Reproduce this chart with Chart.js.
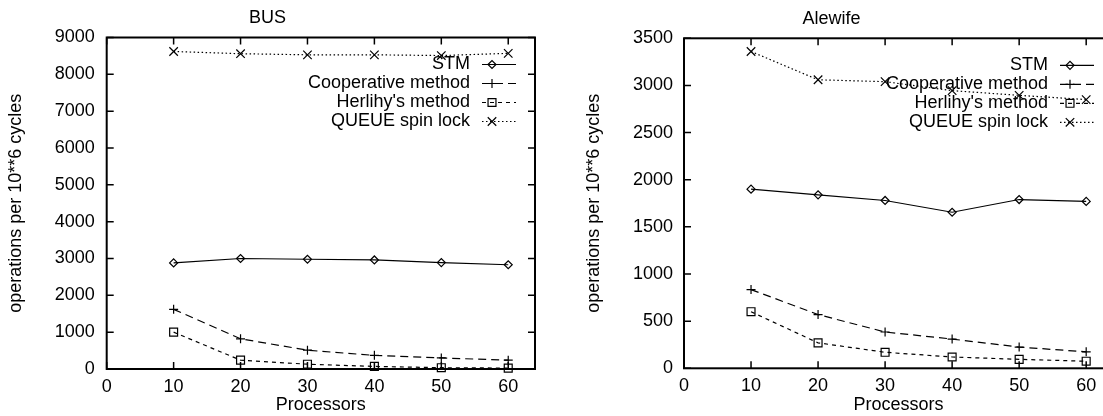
<!DOCTYPE html>
<html>
<head>
<meta charset="utf-8">
<title>STM throughput - BUS / Alewife</title>
<script src="https://cdn.jsdelivr.net/npm/chart.js@4/dist/chart.umd.min.js"></script>
<style>
  body { margin: 0; background: #fff; overflow: hidden; width: 1103px; height: 416px; position: relative; }
  canvas { position: absolute; top: 0; }
  #busChart { left: 0; }
  #alewifeChart { left: 550px; }
</style>
</head>
<body>
<canvas id="busChart" width="550" height="416"></canvas>
<canvas id="alewifeChart" width="600" height="416"></canvas>
<script>
'use strict';

// data
const processors = [10, 20, 30, 40, 50, 60];
const seriesNames = ['STM', 'Cooperative method', "Herlihy's method", 'QUEUE spin lock'];

// BUS
const busStm = [2880, 3000, 2980, 2960, 2890, 2830];
const busCoop = [1620, 820, 510, 370, 300, 240];
const busHerlihy = [1000, 240, 130, 70, 35, 25];
const busQueue = [8620, 8560, 8530, 8530, 8510, 8570];

// Alewife
const aleStm = [1900, 1840, 1780, 1655, 1790, 1770];
const aleCoop = [835, 570, 385, 310, 225, 175];
const aleHerlihy = [600, 270, 170, 120, 95, 75];
const aleQueue = [3360, 3060, 3040, 2945, 2895, 2850];

// tick labels
const xTicks = [0, 10, 20, 30, 40, 50, 60];
const busYTicks = [0, 1000, 2000, 3000, 4000, 5000, 6000, 7000, 8000, 9000];
const aleYTicks = [0, 500, 1000, 1500, 2000, 2500, 3000, 3500];

const FONT = '"Liberation Sans", Arial, Helvetica, sans-serif';
Chart.defaults.font.family = FONT;
Chart.defaults.font.size = 18;
Chart.defaults.color = '#000';

// line look for each series (gnuplot style 1..4)
const looks = [
    { dash: [], point: 'rectRot', r: 4 },
    { dash: [8, 5], point: 'cross', r: 4.5 },
    { dash: [4, 4], point: 'rect', r: 5.6 },
    { dash: [1.5, 2.5], point: 'crossRot', r: 6 }
];

// gnuplot frame: box round the plot with ticks pointing inwards
const framePlugin = {
    id: 'frame',
    beforeDatasetsDraw(chart) {
        const ctx = chart.ctx;
        const a = chart.chartArea;
        const xs = chart.scales.x;
        const ys = chart.scales.y;
        ctx.save();
        ctx.strokeStyle = '#000';
        ctx.lineWidth = 1.5;
        ctx.beginPath();
        xs.ticks.forEach(t => {
            const px = xs.getPixelForValue(t.value);
            ctx.moveTo(px, a.bottom);
            ctx.lineTo(px, a.bottom - 7);
            ctx.moveTo(px, a.top);
            ctx.lineTo(px, a.top + 7);
        });
        ys.ticks.forEach(t => {
            const py = ys.getPixelForValue(t.value);
            ctx.moveTo(a.left, py);
            ctx.lineTo(a.left + 7, py);
            ctx.moveTo(a.right, py);
            ctx.lineTo(a.right - 7, py);
        });
        ctx.stroke();
        ctx.lineWidth = 2;
        ctx.strokeRect(a.left, a.top, a.right - a.left, a.bottom - a.top);
        ctx.restore();
    }
};

// key drawn inside the plot, top right, on top of the lines like gnuplot does
const keyPlugin = {
    id: 'key',
    afterDatasetsDraw(chart) {
        const ctx = chart.ctx;
        const a = chart.chartArea;
        const rows = chart.data.datasets;
        for (let i = 0; i < rows.length; i++) {
            const ds = rows[i];
            const y = a.top + 27 + i * 19;
            ctx.save();
            ctx.fillStyle = '#000';
            ctx.font = '18px ' + FONT;
            ctx.textAlign = 'right';
            ctx.textBaseline = 'middle';
            ctx.fillText(ds.label, a.right - 65, y);
            ctx.strokeStyle = '#000';
            ctx.lineWidth = ds.borderWidth;
            ctx.setLineDash(ds.borderDash);
            ctx.beginPath();
            ctx.moveTo(a.right - 53, y);
            ctx.lineTo(a.right - 19, y);
            ctx.stroke();
            ctx.setLineDash([]);
            ctx.fillStyle = 'rgba(0,0,0,0)';
            if (Chart.helpers && Chart.helpers.drawPoint) {
                Chart.helpers.drawPoint(ctx, {
                    pointStyle: ds.pointStyle,
                    radius: ds.pointRadius,
                    borderWidth: ds.pointBorderWidth,
                    rotation: 0
                }, a.right - 43, y);
            }
            ctx.restore();
        }
    }
};

function makeChart(id, title, yTicks, series, box) {
    const datasets = series.map((vals, i) => ({
        label: seriesNames[i],
        data: vals.map((v, j) => ({ x: processors[j], y: v })),
        borderColor: '#000',
        borderWidth: 1.2,
        borderDash: looks[i].dash,
        pointStyle: looks[i].point,
        pointRadius: looks[i].r,
        pointBorderWidth: 1.2,
        pointBorderColor: '#000',
        pointBackgroundColor: 'rgba(0,0,0,0)',
        tension: 0,
        clip: false
    }));

    return new Chart(document.getElementById(id), {
        type: 'line',
        data: { datasets: datasets },
        options: {
            responsive: false,
            animation: false,
            devicePixelRatio: 1,
            layout: { padding: { left: 0, right: box.padRight, top: 0, bottom: 0 } },
            plugins: {
                legend: { display: false },
                tooltip: { enabled: false },
                title: {
                    display: true,
                    text: title,
                    font: { size: 18, weight: 'normal' },
                    padding: { top: box.titleTop, bottom: box.titleBottom }
                }
            },
            scales: {
                x: {
                    type: 'linear',
                    min: 0,
                    max: 64,
                    afterBuildTicks: s => { s.ticks = xTicks.map(v => ({ value: v })); },
                    afterFit: s => { s.height = box.xHeight; },
                    grid: { display: false, drawTicks: false },
                    border: { display: false },
                    ticks: { padding: 7, autoSkip: false, maxRotation: 0, callback: v => String(v) },
                    title: {
                        display: true,
                        text: 'Processors',
                        padding: { top: 0, bottom: 0 }
                    }
                },
                y: {
                    type: 'linear',
                    min: 0,
                    max: yTicks[yTicks.length - 1],
                    afterBuildTicks: s => { s.ticks = yTicks.map(v => ({ value: v })); },
                    afterFit: s => { s.width = box.yWidth; },
                    grid: { display: false, drawTicks: false },
                    border: { display: false },
                    ticks: { padding: box.yPad, callback: v => String(v) },
                    title: {
                        display: true,
                        text: 'operations per 10**6 cycles',
                        padding: { top: box.yTitlePad, bottom: 0 }
                    }
                }
            }
        },
        plugins: [framePlugin, keyPlugin]
    });
}

makeChart('busChart', 'BUS', busYTicks, [busStm, busCoop, busHerlihy, busQueue], {
    padRight: 15, titleTop: 7.5, titleBottom: 8.4, xHeight: 47, yWidth: 106.7, yPad: 12, yTitlePad: 5
});

// right plot runs past the window edge, like in the picture
makeChart('alewifeChart', 'Alewife', aleYTicks, [aleStm, aleCoop, aleHerlihy, aleQueue], {
    padRight: 37, titleTop: 8.5, titleBottom: 8.2, xHeight: 47.7, yWidth: 134, yPad: 11, yTitlePad: 33
});
</script>
</body>
</html>
